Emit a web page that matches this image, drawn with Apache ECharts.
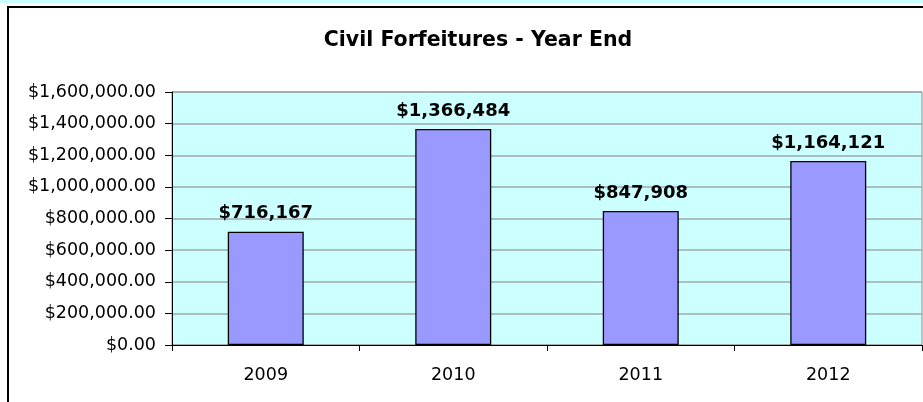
<!DOCTYPE html>
<html>
<head>
<meta charset="utf-8">
<script src="https://cdn.jsdelivr.net/npm/echarts@6/dist/echarts.min.js"></script>
<style>
html,body{margin:0;padding:0;background:#fff;}
#c{width:923px;height:402px;}
</style>
</head>
<body>
<div id="c"></div>
<script>
var titleText = 'Civil Forfeitures - Year End';
var categories = ['2009', '2010', '2011', '2012'];
var values = [716167, 1366484, 847908, 1164121];
var yMin = 0, yMax = 1600000, yStep = 200000;

function money2(v) {
  return '$' + v.toLocaleString('en-US', {minimumFractionDigits: 2, maximumFractionDigits: 2});
}
function money0(v) {
  return '$' + Math.round(v).toLocaleString('en-US');
}

var chart = echarts.init(document.getElementById('c'), null, {renderer: 'canvas'});
chart.setOption({
  animation: false,
  backgroundColor: '#ffffff',
  graphic: [
    {type: 'rect', shape: {x: 0, y: 0, width: 923, height: 3}, style: {fill: '#ccffff'}, silent: true, z: -10},
    {type: 'rect', shape: {x: 8, y: 7, width: 1200, height: 1200}, style: {fill: 'none', stroke: '#000', lineWidth: 2}, silent: true, z: 10}
  ],
  title: {
    text: titleText,
    left: 473, top: 25, textAlign: 'center',
    textStyle: {fontFamily: 'DejaVu Sans', fontWeight: 'bold', fontSize: 20.5, color: '#000'}
  },
  grid: {
    left: 172, right: 1, top: 92, bottom: 57,
    show: true, backgroundColor: '#ccffff', borderColor: '#8c8c8c', borderWidth: 1
  },
  xAxis: {
    type: 'category', data: categories,
    axisLine: {lineStyle: {color: '#000', width: 1}},
    axisTick: {show: true, length: 6, lineStyle: {color: '#000'}},
    axisLabel: {margin: 21, fontFamily: 'DejaVu Sans', fontSize: 17.5, color: '#000'}
  },
  yAxis: {
    type: 'value', min: yMin, max: yMax, interval: yStep,
    axisLine: {show: true, lineStyle: {color: '#000', width: 1}},
    axisTick: {show: true, length: 7, lineStyle: {color: '#000'}},
    splitLine: {lineStyle: {color: '#a0a8a8', width: 1.5}},
    axisLabel: {margin: 16, fontFamily: 'DejaVu Sans', fontSize: 17.5, color: '#000', formatter: money2}
  },
  series: [{
    type: 'bar', data: values, barWidth: 76,
    itemStyle: {color: '#9999ff', borderColor: '#000', borderWidth: 1.3},
    label: {
      show: true, position: 'top', distance: 9,
      fontFamily: 'DejaVu Sans', fontWeight: 'bold', fontSize: 18, color: '#000',
      formatter: function (p) { return money0(p.value); }
    }
  }]
});
</script>
</body>
</html>
